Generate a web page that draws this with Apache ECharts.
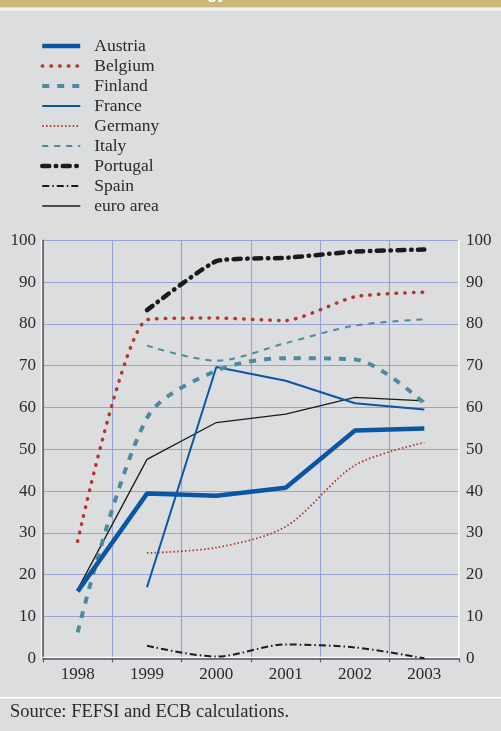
<!DOCTYPE html>
<html><head><meta charset="utf-8">
<script src="https://cdn.jsdelivr.net/npm/echarts@6/dist/echarts.min.js"></script>
<style>html,body{margin:0;padding:0;background:#dcdddf;}#c{width:501px;height:731px;}</style>
</head><body><div id="c"></div>
<script>
const years = ['1998','1999','2000','2001','2002','2003'];
const austria  = [16.0, 39.4, 38.9, 40.8, 54.5, 55.0];
const belgium  = [28.0, 81.0, 81.4, 80.8, 86.5, 87.6];
const finland  = [6.2, 57.5, 68.8, 71.8, 71.5, 61.0];
const france   = [null, 17.0, 69.7, 66.4, 61.0, 59.5];
const germany  = [null, 25.2, 26.5, 31.5, 46.2, 51.6];
const italy    = [null, 74.8, 71.2, 75.4, 79.6, 81.1];
const portugal = [null, 83.3, 95.0, 95.8, 97.3, 97.8];
const spain    = [null, 3.0, 0.4, 3.3, 2.6, 0.0];
const euroArea = [16.5, 47.6, 56.4, 58.4, 62.4, 61.6];
const yTicks = [0,10,20,30,40,50,60,70,80,90,100];

const FONT = 'Liberation Serif';
const BLUE = '#0b56a4', RED = '#b3372c', TEAL = '#4a8c9d', BLACK = '#1b1b1b';

const styles = {
  'Austria':   { color: BLUE,  width: 4.5, type: 'solid', cap: 'butt', smooth: false },
  'Belgium':   { color: RED,   width: 3.5, type: [0.5, 8.2], cap: 'round', smooth: 0.2 },
  'Finland':   { color: TEAL,  width: 4,   type: [7, 8], cap: 'butt', smooth: 0.3 },
  'France':    { color: BLUE,  width: 2,   type: 'solid', cap: 'butt', smooth: false },
  'Germany':   { color: RED,   width: 1.8, type: [1.5, 2.3], cap: 'butt', smooth: 0.3 },
  'Italy':     { color: TEAL,  width: 2,   type: [6, 6], cap: 'butt', smooth: 0.3 },
  'Portugal':  { color: BLACK, width: 4.5, type: [7, 6.5, 0.5, 6.5], cap: 'round', smooth: 0.15 },
  'Spain':     { color: BLACK, width: 2,   type: [7, 3, 1.5, 3], cap: 'butt', smooth: 0.3 },
  'euro area': { color: BLACK, width: 1.3, type: 'solid', cap: 'butt', smooth: false }
};
const legendNames = ['Austria','Belgium','Finland','France','Germany','Italy','Portugal','Spain','euro area'];

function s(name, data) {
  const st = styles[name];
  return {
    name, type: 'line', data, symbol: 'none', showSymbol: false, smooth: st.smooth,
    connectNulls: false,
    lineStyle: { color: st.color, width: st.width, type: st.type, cap: st.cap },
    itemStyle: { color: st.color },
    emphasis: { disabled: true }
  };
}

const chart = echarts.init(document.getElementById('c'), null, { renderer: 'canvas' });
chart.setOption({
  backgroundColor: '#dcdddf',
  animation: false,
  textStyle: { fontFamily: FONT },
  graphic: [
    { type: 'rect', shape: { x: 0, y: 0, width: 501, height: 7.5 }, style: { fill: '#c8b97b' }, z: 10 },
    { type: 'rect', shape: { x: 0, y: 7.5, width: 501, height: 3 }, style: { fill: '#f2f2f0' }, z: 10 },
    { type: 'text', x: 207, y: -14, style: { text: 'gy', fill: '#ffffff', font: 'bold 17px Liberation Sans' }, z: 11 },
    { type: 'rect', shape: { x: 0, y: 697, width: 501, height: 1.6 }, style: { fill: '#ffffff' }, z: 10 },
    { type: 'text', x: 10, y: 703, style: { text: 'Source: FEFSI and ECB calculations.', fill: '#2a2a2a', font: '18.5px Liberation Serif' }, z: 10 }
  ],
  legend: {
    orient: 'vertical', left: 40, top: 37, padding: 0,
    itemWidth: 38, itemHeight: 14, itemGap: 2,
    itemStyle: { color: 'transparent', opacity: 0, borderWidth: 0 },
    textStyle: { fontFamily: FONT, fontSize: 17.5, lineHeight: 18, color: '#2a2a2a', padding: [0, 0, 0, 9] },
    data: legendNames.map(n => ({
      name: n,
      lineStyle: { color: styles[n].color, width: styles[n].width, type: styles[n].type, cap: styles[n].cap },
      itemStyle: { color: 'transparent', opacity: 0, borderWidth: 0 }
    }))
  },
  grid: { left: 43, right: 42, top: 240.3, bottom: 72.7, containLabel: false },
  xAxis: {
    type: 'category', data: years, boundaryGap: true,
    axisLine: { show: true, lineStyle: { color: '#5a5a5a', width: 1.5, shadowColor: '#ffffff', shadowOffsetY: -1.5 } },
    axisTick: { show: true, length: 4, inside: false, lineStyle: { color: '#5a5a5a', width: 1.2 } },
    axisLabel: { color: '#2a2a2a', fontSize: 17, fontFamily: FONT, margin: 8 },
    splitLine: { show: true, interval: 0, lineStyle: { color: '#97a4d3', width: 1.1 } }
  },
  yAxis: [
    { type: 'value', min: 0, max: 100, interval: 10, position: 'left',
      axisLine: { show: true, lineStyle: { color: '#5a5a5a', width: 1.5, shadowColor: '#ffffff', shadowOffsetX: -1.5 } },
      axisTick: { show: false },
      axisLabel: { color: '#2a2a2a', fontSize: 17, fontFamily: FONT, margin: 7,
        formatter: v => yTicks.includes(v) ? String(v) : '' },
      splitLine: { show: true, lineStyle: { color: '#97a4d3', width: 1.1 } } },
    { type: 'value', min: 0, max: 100, interval: 10, position: 'right',
      axisLine: { show: true, lineStyle: { color: '#ffffff', width: 1.8 } },
      axisTick: { show: false },
      axisLabel: { color: '#2a2a2a', fontSize: 17, fontFamily: FONT, margin: 7,
        formatter: v => yTicks.includes(v) ? String(v) : '' },
      splitLine: { show: false } }
  ],
  series: [
    s('Spain', spain),
    s('Germany', germany),
    s('Italy', italy),
    s('euro area', euroArea),
    s('France', france),
    s('Finland', finland),
    s('Belgium', belgium),
    s('Portugal', portugal),
    s('Austria', austria)
  ]
});
</script></body></html>
